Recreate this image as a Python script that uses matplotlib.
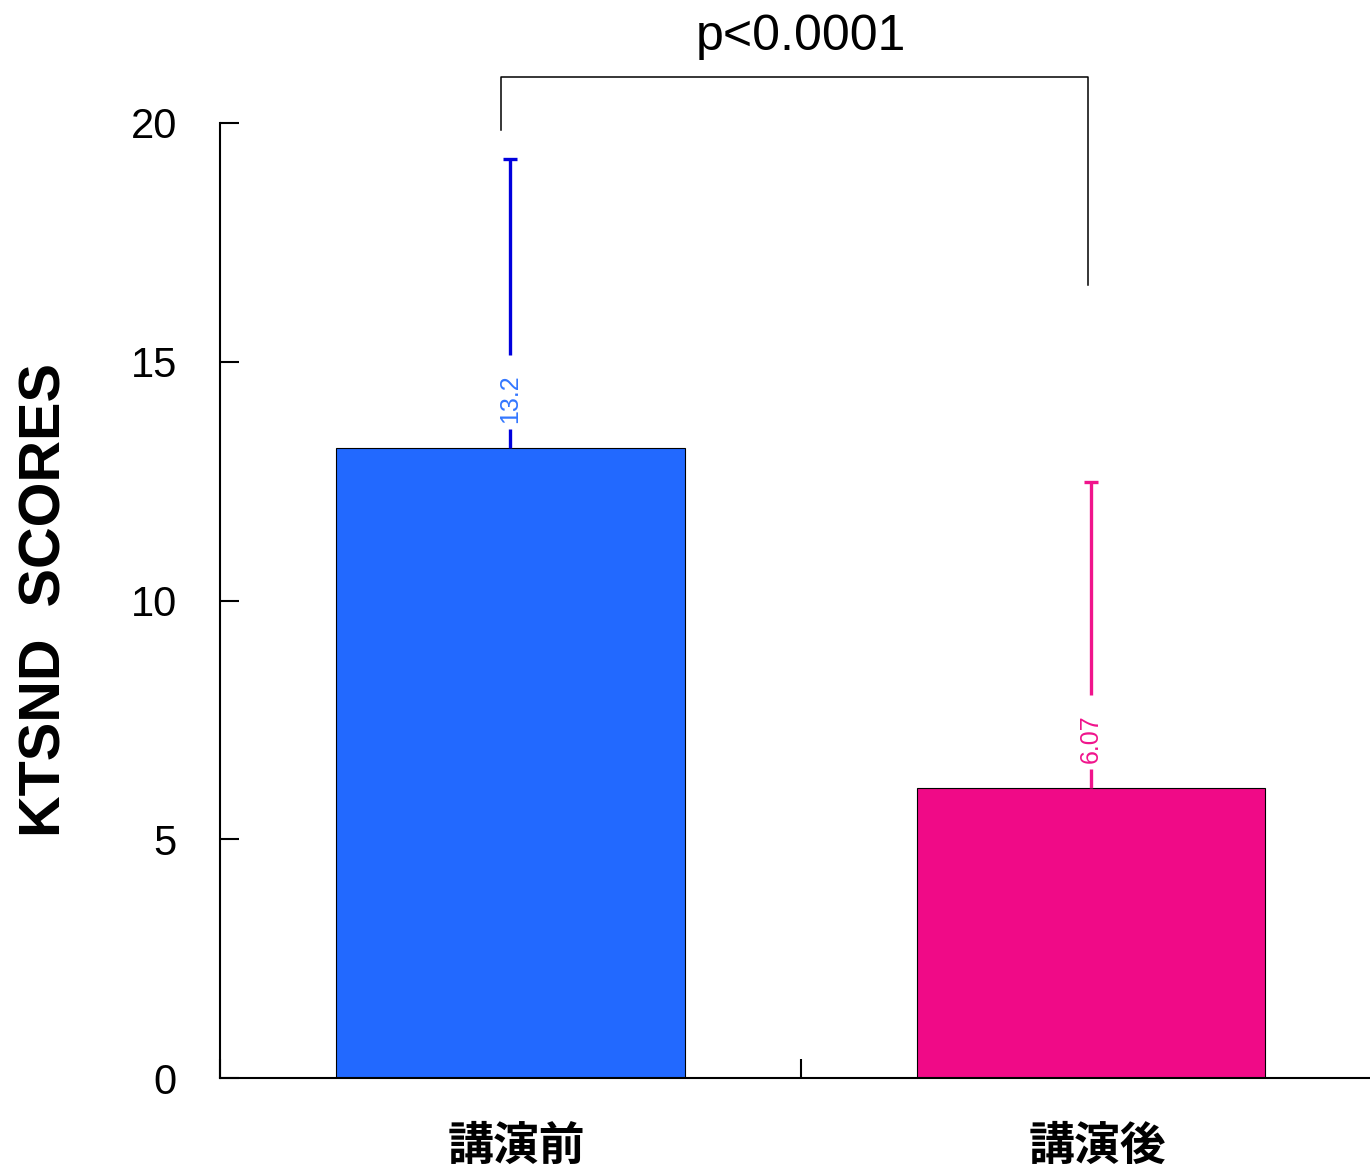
import matplotlib
matplotlib.use("Agg")
import matplotlib.pyplot as plt

categories = ["講演前", "講演後"]
means = [13.2, 6.07]
sds = [6.05, 6.41]
value_labels = ["13.2", "6.07"]
p_label = "p<0.0001"
y_ticks = [0, 5, 10, 15, 20]
ylabel = "KTSND  SCORES"

bar_colors = ["#2269FF", "#F00A87"]
err_colors = ["#0000DD", "#F0148C"]
text_colors = ["#3377FF", "#F0148C"]

plt.rcParams['font.family'] = ['Liberation Sans', 'DejaVu Sans']

fig = plt.figure(figsize=(13.7, 11.72), dpi=100)
ax = fig.add_axes([220/1370, 1-1078/1172, 1150/1370, (1078-123)/1172])

x = list(range(len(categories)))
ax.bar(x, means, width=0.6, color=bar_colors, edgecolor="black", linewidth=0.8, zorder=2)

for xi, m, s, ec, tc, lab in zip(x, means, sds, err_colors, text_colors, value_labels):
    ax.vlines(xi, m, m + 0.4, color=ec, linewidth=2.4, zorder=3)
    ax.vlines(xi, m + 1.95, m + s, color=ec, linewidth=2.4, zorder=3)
    ax.hlines(m + s, xi - 0.012, xi + 0.012, color=ec, linewidth=2.4, zorder=3)
    ax.text(xi, m + 1.03, lab, rotation=90, ha="center", va="center",
            color=tc, fontsize=18, zorder=4)

# significance bracket
bx0, bx1 = -0.016, 0.994
ax.plot([bx0, bx0, bx1, bx1], [19.85, 20.96, 20.96, 16.61], color="black",
        linewidth=1.1, clip_on=False)
ax.text(0.5, 21.8, p_label, ha="center", va="center", fontsize=36, clip_on=False)

ax.set_xlim(-0.5, 1.48)
ax.set_ylim(0, 20)
ax.set_yticks(y_ticks)
ax.set_yticklabels([str(t) for t in y_ticks], fontsize=30)
ax.tick_params(axis="y", direction="in", length=14, width=1.5, pad=31)

ax.set_xticks([-0.5, 0.5])
ax.set_xticklabels(["", ""])
ax.tick_params(axis="x", which="major", direction="in", length=14, width=1.5)
ax.set_xticks([xi + 0.01 for xi in x], minor=True)
ax.set_xticklabels(categories, minor=True, fontsize=33, fontweight="bold",
                   family=['Noto Sans CJK JP', 'DejaVu Sans'])
ax.tick_params(axis="x", which="minor", length=0, pad=33)

for side in ["top", "right"]:
    ax.spines[side].set_visible(False)
for side in ["left", "bottom"]:
    ax.spines[side].set_linewidth(1.5)

fig.text(46/1370, 1-600/1172, ylabel, rotation=90, ha="center", va="center",
         fontsize=41.5, fontweight="bold")

fig.savefig("out.png", dpi=100)
